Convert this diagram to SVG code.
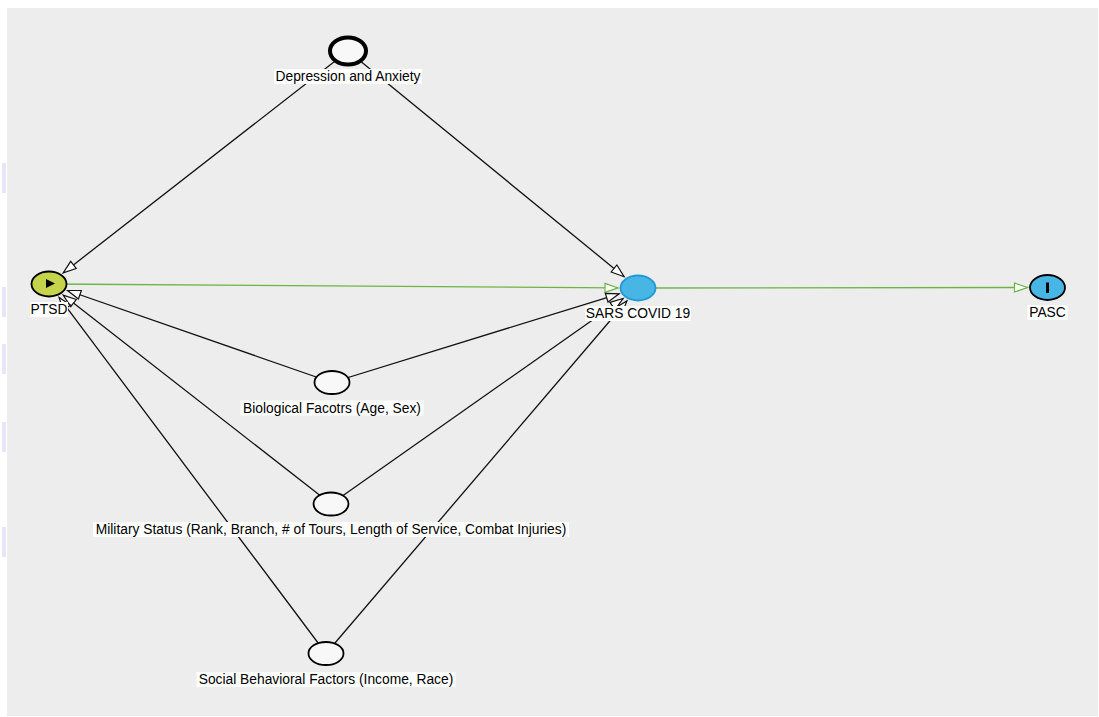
<svg xmlns="http://www.w3.org/2000/svg" width="1099" height="717" viewBox="0 0 1099 717">
<defs>
<style>
.bg{fill:#ededed}
.mark{fill:#e6e6f8}
.e{stroke:#111;stroke-width:1.3;fill:none}
.g{stroke:#6cb545;stroke-width:1.4;fill:none}
.n{fill:#f8f8f8;stroke:#000;stroke-width:1.8}
.lb{fill:#fff}
.t{font-family:"Liberation Sans",Arial,sans-serif;font-size:13.8px;fill:#000;text-anchor:middle}
</style>
<marker id="ab" markerUnits="userSpaceOnUse" markerWidth="16" markerHeight="12" refX="13" refY="4.5" orient="auto" overflow="visible">
<path d="M0,0 L13,4.5 L0,9 z" fill="#fff" stroke="#111" stroke-width="1.2"/>
</marker>
<marker id="ag" markerUnits="userSpaceOnUse" markerWidth="16" markerHeight="12" refX="13" refY="4.5" orient="auto" overflow="visible">
<path d="M0,0 L13,4.5 L0,9 z" fill="#fff" stroke="#6cb545" stroke-width="1.2"/>
</marker>
</defs>
<rect x="7" y="8" width="1091" height="708" class="bg"/>
<g id="marks">
<rect x="2" y="163" width="4" height="30" class="mark"/>
<rect x="2" y="287" width="4" height="30" class="mark"/>
<rect x="2" y="344" width="4" height="30" class="mark"/>
<rect x="2" y="422" width="4" height="30" class="mark"/>
<rect x="2" y="527" width="4" height="30" class="mark"/>
</g>
<g id="connectors">
<line x1="348" y1="51" x2="63.2" y2="272.9" class="e" marker-end="url(#ab)"/>
<line x1="348" y1="51" x2="624.1" y2="276.7" class="e" marker-end="url(#ab)"/>
<line x1="49" y1="284" x2="618" y2="287.9" class="g" marker-end="url(#ag)"/>
<line x1="638" y1="288" x2="1027.5" y2="287.5" class="g" marker-end="url(#ag)"/>
<line x1="332" y1="382.5" x2="67.6" y2="290.5" class="e" marker-end="url(#ab)"/>
<line x1="332" y1="382.5" x2="619.1" y2="293.8" class="e" marker-end="url(#ab)"/>
<line x1="331" y1="504" x2="63.2" y2="295.1" class="e" marker-end="url(#ab)"/>
<line x1="331" y1="504" x2="623.1" y2="298.5" class="e" marker-end="url(#ab)"/>
<line x1="326" y1="653.5" x2="59.1" y2="297.4" class="e" marker-end="url(#ab)"/>
<line x1="326" y1="653.5" x2="626.9" y2="301" class="e" marker-end="url(#ab)"/>
</g>
<g id="node-depression">
<ellipse cx="348" cy="51" rx="18" ry="13.5" fill="#f8f8f8" stroke="#000" stroke-width="4"/>
<rect x="274" y="69" width="148" height="15" class="lb"/>
<text x="348" y="81" class="t">Depression and Anxiety</text>
</g>
<g id="node-ptsd">
<ellipse cx="49" cy="284" rx="17.5" ry="12.5" fill="#c5d44a" stroke="#000" stroke-width="1.8"/>
<path d="M46,279 L55,283.5 L46,288 z" fill="#000"/>
<rect x="30" y="302" width="38" height="15" class="lb"/>
<text x="49" y="314" class="t">PTSD</text>
</g>
<g id="node-sars">
<ellipse cx="638" cy="288" rx="17.5" ry="12.5" fill="#48b6e4" stroke="#1f9ad6" stroke-width="1.8"/>
<rect x="585" y="306" width="106" height="15" class="lb"/>
<text x="638" y="318" class="t">SARS COVID 19</text>
</g>
<g id="node-pasc">
<ellipse cx="1047.5" cy="287.5" rx="17.5" ry="12.5" fill="#48b6e4" stroke="#000" stroke-width="1.8"/>
<rect x="1046" y="282.5" width="3" height="10.5" fill="#000"/>
<rect x="1027.5" y="305" width="40" height="15" class="lb"/>
<text x="1047.5" y="317" class="t">PASC</text>
</g>
<g id="node-biological">
<ellipse cx="332" cy="382.5" rx="17.5" ry="11.5" class="n"/>
<rect x="240.5" y="400.5" width="183" height="15" class="lb"/>
<text x="332" y="412.5" class="t">Biological Facotrs (Age, Sex)</text>
</g>
<g id="node-military">
<ellipse cx="331" cy="504" rx="17.5" ry="11.5" class="n"/>
<rect x="93" y="522" width="476" height="15" class="lb"/>
<text x="331" y="534" class="t">Military Status (Rank, Branch, # of Tours, Length of Service, Combat Injuries)</text>
</g>
<g id="node-social">
<ellipse cx="326" cy="653.5" rx="17.5" ry="11.5" class="n"/>
<rect x="196.5" y="672" width="259" height="15" class="lb"/>
<text x="326" y="684" class="t">Social Behavioral Factors (Income, Race)</text>
</g>
</svg>
